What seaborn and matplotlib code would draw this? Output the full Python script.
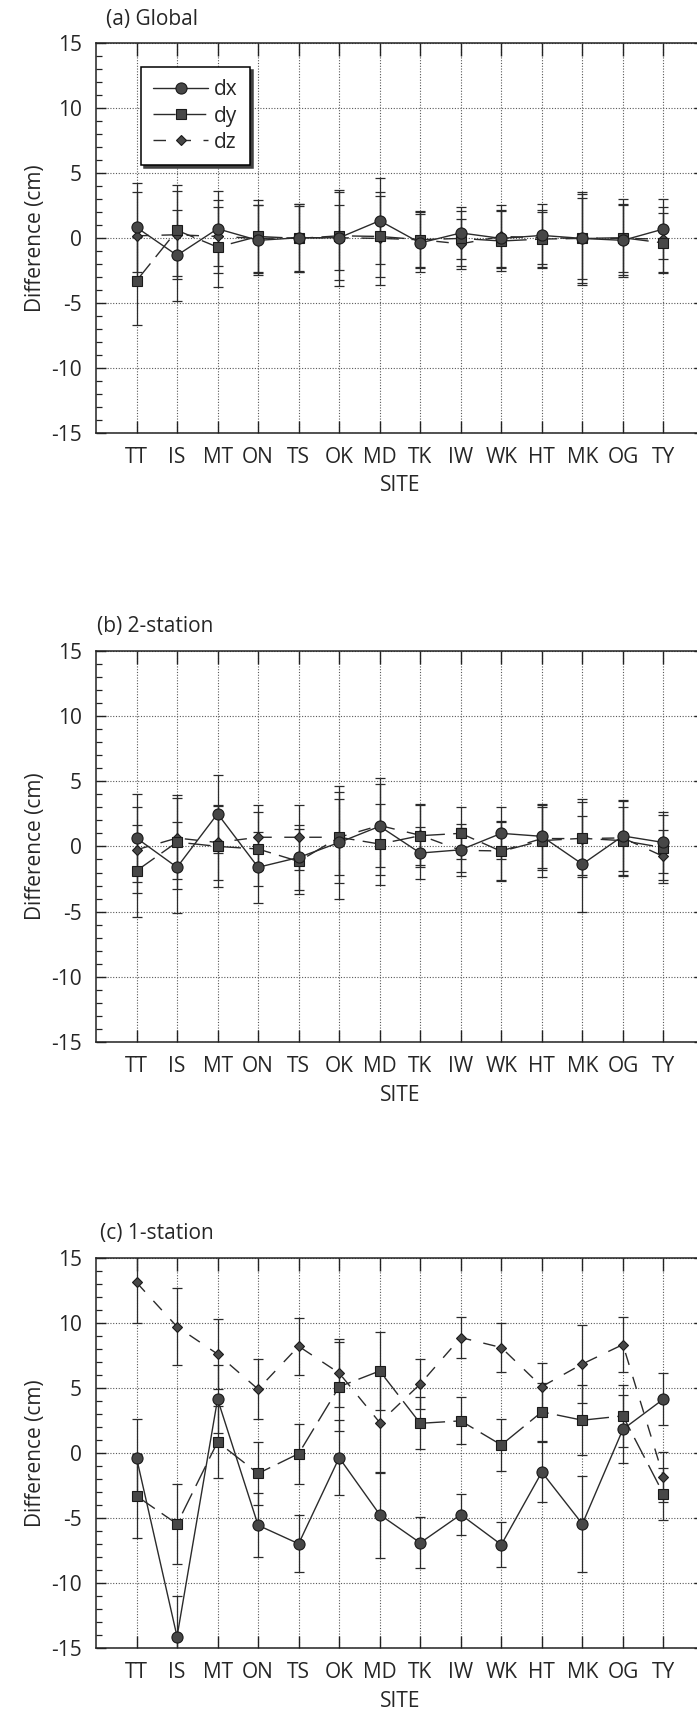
import numpy as np
import pandas as pd
import matplotlib
matplotlib.use("Agg")
import matplotlib.pyplot as plt
import seaborn as sns
from matplotlib.lines import Line2D
from matplotlib.ticker import MultipleLocator

sites = ['TT', 'IS', 'MT', 'ON', 'TS', 'OK', 'MD', 'TK', 'IW', 'WK', 'HT', 'MK', 'OG', 'TY']

# (a) Global
a_dx = [0.85, -1.3, 0.74, -0.15, 0.05, 0.05, 1.36, -0.35, 0.42, 0.0, 0.23, 0.0, -0.15, 0.72]
a_dy = [-3.26, 0.62, -0.67, 0.15, 0.0, 0.2, 0.15, -0.1, 0.0, -0.2, -0.05, 0.0, 0.05, -0.35]
a_dz = [0.2, 0.28, 0.15, 0.0, 0.05, 0.05, 0.0, -0.1, -0.42, 0.15, 0.05, 0.0, 0.0, -0.05]
a_dx_err = [3.4, 3.5, 2.9, 2.7, 2.6, 3.7, 3.3, 2.2, 2.0, 2.2, 2.4, 3.4, 2.7, 2.3]
a_dy_err = [3.4, 3.5, 3.1, 2.8, 2.5, 3.4, 3.1, 2.1, 2.1, 2.3, 2.2, 3.6, 2.6, 2.3]
a_dz_err = [3.4, 3.4, 2.8, 2.6, 2.6, 2.5, 3.6, 2.2, 1.9, 2.4, 2.0, 3.1, 3.0, 2.5]

# (b) 2-station
b_dx = [0.64, -1.6, 2.5, -1.6, -0.85, 0.3, 1.54, -0.51, -0.26, 1.0, 0.77, -1.36, 0.8, 0.3]
b_dy = [-1.87, 0.33, 0.0, -0.2, -1.15, 0.7, 0.18, 0.82, 1.0, -0.38, 0.44, 0.62, 0.44, -0.1]
b_dz = [-0.26, 0.64, 0.3, 0.7, 0.7, 0.7, 1.6, 0.85, -0.3, -0.35, 0.6, 0.6, 0.65, -0.77]
b_dx_err = [3.4, 3.5, 3.0, 2.7, 2.5, 4.3, 3.7, 2.0, 1.7, 2.0, 2.4, 3.7, 2.7, 2.3]
b_dy_err = [3.5, 3.6, 3.1, 2.8, 2.5, 2.9, 3.1, 2.4, 2.0, 2.3, 2.8, 3.0, 2.6, 2.5]
b_dz_err = [3.3, 3.1, 2.9, 2.5, 2.5, 3.5, 3.2, 2.3, 2.0, 2.2, 2.4, 2.8, 2.9, 2.0]

# (c) 1-station
c_dx = [-0.36, -14.1, 4.14, -5.55, -6.97, -0.36, -4.73, -6.9, -4.73, -7.04, -1.47, -5.45, 1.82, 4.14]
c_dy = [-3.3, -5.45, 0.85, -1.57, -0.05, 5.09, 6.3, 2.28, 2.47, 0.62, 3.16, 2.52, 2.85, -3.14]
c_dz = [13.1, 9.7, 7.6, 4.9, 8.2, 6.14, 2.34, 5.3, 8.87, 8.1, 5.1, 6.84, 8.33, -1.83]
c_dx_err = [3.0, 3.1, 2.6, 2.45, 2.2, 2.9, 3.3, 1.95, 1.55, 1.75, 2.3, 3.7, 2.6, 2.0]
c_dy_err = [3.2, 3.1, 2.75, 2.4, 2.3, 3.4, 3.0, 2.0, 1.8, 2.0, 2.2, 2.7, 2.4, 2.0]
c_dz_err = [3.1, 2.95, 2.7, 2.3, 2.2, 2.6, 3.9, 1.9, 1.6, 1.9, 1.8, 3.0, 2.1, 1.9]

panels = [
    ('(a) Global', a_dx, a_dy, a_dz, a_dx_err, a_dy_err, a_dz_err),
    ('(b) 2-station', b_dx, b_dy, b_dz, b_dx_err, b_dy_err, b_dz_err),
    ('(c) 1-station', c_dx, c_dy, c_dz, c_dx_err, c_dy_err, c_dz_err),
]

# line / marker style for each component
styles = {
    'dx': dict(marker='o', ms=8, ls='-'),
    'dy': dict(marker='s', ms=7, ls=(0, (16, 6))),
    'dz': dict(marker='D', ms=5, ls=(0, (9, 9))),
}
line_col = '#2b2b2b'
face_col = '#474747'
fs = 15

sns.set_style("ticks")
plt.rcParams['font.family'] = ['Open Sans', 'DejaVu Sans']
plt.rcParams['font.size'] = fs
plt.rcParams['axes.unicode_minus'] = False

fig = plt.figure(figsize=(6.97, 17.17), dpi=100)

# axes boxes in figure fraction (right spine falls just outside the picture)
boxes = [
    [0.1377, 0.7476, 0.8723, 0.2271],
    [0.1377, 0.3930, 0.8723, 0.2281],
    [0.1377, 0.0400, 0.8723, 0.2275],
]
title_x = [0.016, 0.001, 0.006]
pos = np.arange(1, len(sites) + 1)

for i, (title, dx, dy, dz, ex, ey, ez) in enumerate(panels):
    ax = fig.add_axes(boxes[i])
    df = pd.DataFrame({
        'pos': np.concatenate([pos, pos, pos]),
        'value': dx + dy + dz,
        'err': ex + ey + ez,
        'comp': ['dx'] * len(sites) + ['dy'] * len(sites) + ['dz'] * len(sites),
    })

    for comp in ['dz', 'dy', 'dx']:
        sub = df[df['comp'] == comp]
        ax.errorbar(sub['pos'], sub['value'], yerr=sub['err'], fmt='none',
                    ecolor=line_col, elinewidth=0.9, capsize=3.5, capthick=0.9, zorder=2)
    for comp in ['dz', 'dy', 'dx']:
        sub = df[df['comp'] == comp]
        st = styles[comp]
        sns.lineplot(data=sub, x='pos', y='value', ax=ax, color=line_col,
                     linestyle=st['ls'], linewidth=1.0, marker=st['marker'],
                     markersize=st['ms'], markerfacecolor=face_col,
                     markeredgecolor='#1a1a1a', markeredgewidth=0.8,
                     sort=False, legend=False, errorbar=None, zorder=3)

    ax.set_xlim(0, 15)
    ax.set_ylim(-15, 15)
    ax.set_xticks(pos)
    ax.set_xticklabels(sites)
    ax.yaxis.set_major_locator(MultipleLocator(5))
    ax.yaxis.set_minor_locator(MultipleLocator(1))
    ax.tick_params(axis='x', which='major', direction='in', length=9, width=1.0,
                   top=True, bottom=True, pad=10, labelsize=fs, color='#222222')
    ax.tick_params(axis='y', which='major', direction='in', length=7, width=1.0,
                   left=True, right=True, pad=10, labelsize=fs, color='#222222')
    ax.tick_params(axis='y', which='minor', direction='in', length=4, width=0.9,
                   left=True, right=True, color='#222222')
    ax.grid(True, which='major', linestyle=(0, (1, 1.5)), color='0.35', linewidth=0.8)
    for sp in ax.spines.values():
        sp.set_linewidth(1.1)
        sp.set_color('#222222')

    ax.set_xlabel('SITE', fontsize=fs)
    ax.xaxis.set_label_coords(0.5, -0.108)
    ax.set_ylabel('Difference (cm)', fontsize=fs)
    ax.yaxis.set_label_coords(-0.083, 0.5)
    ax.text(title_x[i], 1.062, title, transform=ax.transAxes, ha='left', va='center',
            fontsize=fs)

    if i == 0:
        handles = [
            Line2D([], [], color=line_col, lw=1.0, ls=styles[c]['ls'], marker=styles[c]['marker'],
                   ms=styles[c]['ms'], mfc=face_col, mec='#1a1a1a', mew=0.8)
            for c in ['dx', 'dy', 'dz']
        ]
        leg = ax.legend(handles, ['dx', 'dy', 'dz'], loc='upper left',
                        bbox_to_anchor=(0.074, 0.94), borderaxespad=0, fontsize=fs,
                        handlelength=2.6, handletextpad=0.3, labelspacing=0.25,
                        borderpad=0.6, fancybox=False, framealpha=1, edgecolor='black',
                        shadow={'color': '0.25', 'alpha': 1.0})
        leg.get_frame().set_linewidth(1.1)

fig.savefig('out.png', dpi=100)
